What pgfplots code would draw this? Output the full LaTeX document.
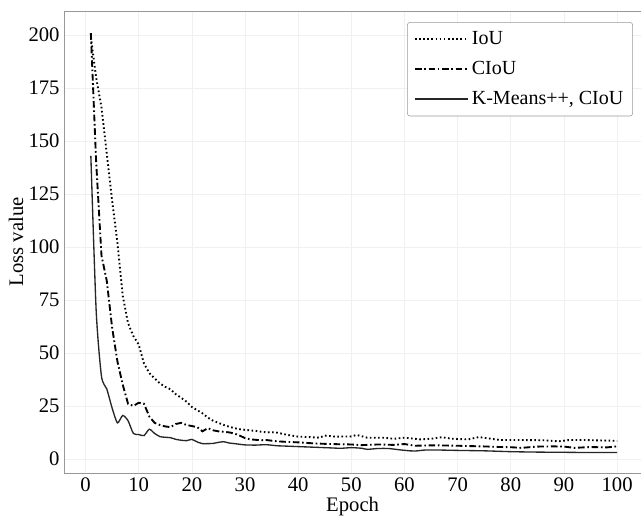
\documentclass[border=0pt]{standalone}
\usepackage{fontspec}
\setmainfont{Liberation Serif}
\usepackage{pgfplots}
\pgfplotsset{compat=1.18}

\begin{document}
\begin{tikzpicture}
\useasboundingbox (-48.2pt,-31.7pt) rectangle (432.5pt,354.6pt);
\begin{axis}[
  scale only axis, width=432.5pt, height=346.3pt,
  xmin=-4, xmax=104.5, ymin=-6.6, ymax=211.4,
  xtick={0,10,...,100}, ytick={0,25,...,200},
  major tick length=0pt,
  /pgf/number format/assume math mode=true,
  tick label style={font=\fontsize{15.5}{18}\selectfont},
  label style={font=\fontsize{15.5}{18}\selectfont},
  xlabel={Epoch}, ylabel={Loss value},
  xlabel style={yshift=3pt}, ylabel style={yshift=-3pt},
  axis line style={gray!80}, grid=major, grid style={gray!12, line width=0.5pt},
  legend style={at={(0.986,0.976)}, anchor=north east, draw=gray!80,
    rounded corners=2pt, font=\fontsize{15}{18}\selectfont, row sep=7pt,
    inner xsep=5pt, inner ysep=5pt},
  legend cell align=left,
  legend image code/.code={\path (0pt,0pt) -- (40pt,0pt);
    \draw[#1] (0pt,0pt) -- (32pt,0pt);},
]
\addplot[black, line width=1.4pt, dash pattern=on 1.2pt off 1.9pt] coordinates {
(1,199) (2,180) (3,166) (4,144) (5,122) (6,102) (7,77) (8,64) (9,58) (10,54)
(11,45) (12,40.5) (13,38) (14,35.6) (15,34) (16,32.8) (17,30.5) (18,28.8) (19,27) (20,24.5)
(21,23) (22,21.5) (23,19.5) (24,18) (25,17) (26,16) (27,15.2) (28,14.5) (29,14) (30,13.7)
(32,13.2) (34,12.5) (35,12.6) (36,12.4) (38,11.3) (40,10.5) (42,10.3) (44,10.0) (45,11)
(47,10.5) (50,10.6) (51,11.3) (53,10) (56,10) (58,9.5) (60,10) (63,9.2) (65,9.5) (67,10.2)
(69,9.5) (72,9.2) (74,10.3) (76,9.6) (78,8.9) (82,8.9) (86,8.8) (89,8.3) (91,8.9) (94,8.9)
(97,8.7) (100,8.5)};
\addlegendentry{IoU}
\addplot[black, line width=1.4pt, dash pattern=on 5pt off 2pt on 1.2pt off 2pt] coordinates {
(1,201) (2,140) (3,96) (4,84) (5,62) (6,46) (7,35) (8,26) (9,25) (10,26.5)
(11,26) (12,20) (13,17) (14,16) (15,15.3) (16,15) (17,16.5) (18,17) (19,16) (20,15.5)
(21,15) (22,13) (23,14.5) (24,13.5) (25,13) (26,12.8) (27,12.5) (28,12) (29,11) (30,9.8)
(31,9.2) (32,9) (33,8.8) (34,8.9) (36,8.3) (38,8) (40,7.8) (43,7.3) (46,7) (50,6.8)
(52,6.5) (55,6.8) (58,6.6) (60,7) (62,6.2) (65,6.4) (68,6.3) (70,6.2) (73,6.0) (76,5.8)
(78,5.6) (80,5.5) (82,5.2) (85,5.8) (88,5.9) (90,5.8) (92,5.2) (95,5.6) (98,5.4) (100,5.9)};
\addlegendentry{CIoU}
\addplot[black!85, line width=1pt, smooth, tension=0.4] coordinates {
(1,143) (2,70) (3,39) (4,33) (5,24) (6,17) (7,20.5) (8,18) (9,12) (10,11.5)
(11,11) (12,14) (13,12) (14,10.5) (15,10.2) (16,10) (17,9.2) (18,8.8) (19,8.6) (20,9.2)
(21,8) (22,7.2) (23,7.2) (24,7.3) (25,7.8) (26,8.1) (27,7.5) (28,7.2) (29,6.9) (30,6.6)
(32,6.5) (34,6.7) (36,6.2) (38,6.0) (40,5.8) (42,5.6) (44,5.4) (46,5.2) (48,5.0) (50,5.3)
(52,5.0) (53,4.5) (55,4.9) (57,4.9) (59,4.3) (61,3.8) (62,3.7) (64,4.2) (66,4.2) (70,4.0)
(75,3.8) (80,3.4) (85,3.2) (90,3.1) (95,3.0) (100,3.0)};
\addlegendentry{K-Means++, CIoU}
\end{axis}
\end{tikzpicture}
\end{document}
